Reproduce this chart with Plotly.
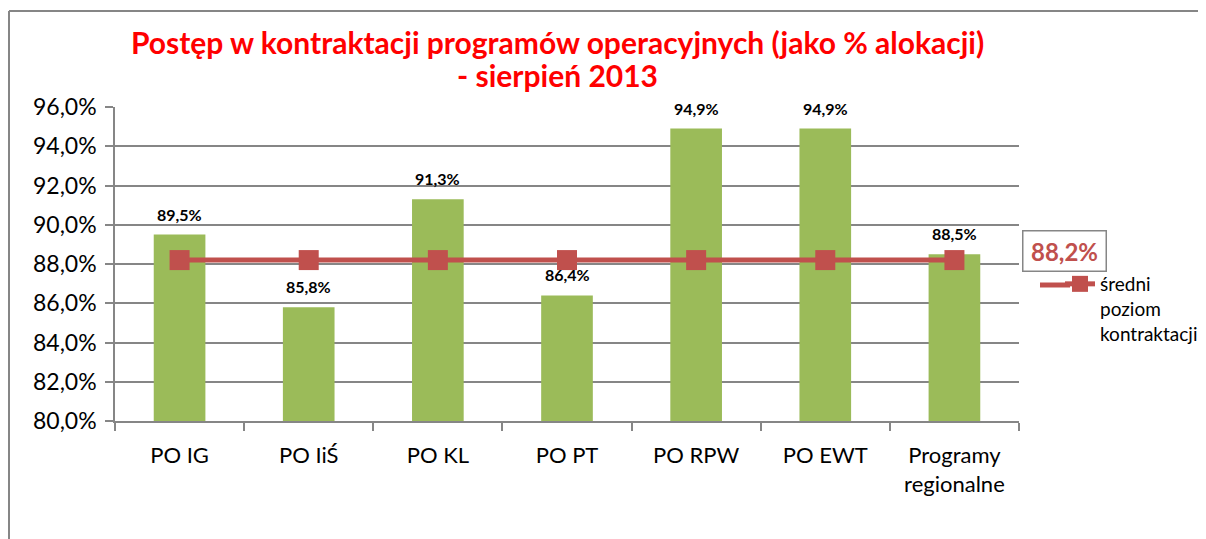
import plotly.graph_objects as go

categories = ["PO IG", "PO IiŚ", "PO KL", "PO PT", "PO RPW", "PO EWT", "Programy<br>regionalne"]
values = [89.5, 85.8, 91.3, 86.4, 94.9, 94.9, 88.5]
average = 88.2
avg_values = [average] * len(categories)
avg_name = "średni<br>poziom<br>kontraktacji"
title_lines = ["Postęp w kontraktacji programów operacyjnych (jako % alokacji)", "- sierpień 2013"]

FONT = "Lato"
GREEN = "#9BBB59"
RED = "#C0504D"
GRID = "#868686"

# page body has an 8px margin: figure is drawn 8px right/down of the screenshot origin
W, H = 1198, 531
L, T = 107, 99
PW, PH = 904, 314


def px(x):
    return (x - 8 - L) / PW


def py(y):
    return (T + PH - (y - 8)) / PH


fig = go.Figure()
fig.add_trace(go.Bar(
    x=categories, y=values, marker=dict(color=GREEN, line=dict(width=0)),
    width=0.4, showlegend=False, hoverinfo="skip",
))
fig.add_trace(go.Scatter(
    x=categories, y=avg_values, mode="lines+markers", name=avg_name,
    line=dict(color=RED, width=5),
    marker=dict(symbol="square", size=20, color=RED),
))

for c, v in zip(categories, values):
    fig.add_annotation(x=c, y=v, text=f"{v:.1f}%".replace(".", ","), showarrow=False,
                       yanchor="bottom", yshift=9,
                       font=dict(family=FONT, size=16, color="black", weight="bold"))

fig.update_layout(
    width=W, height=H,
    margin=dict(l=L, r=W - L - PW, t=T, b=H - T - PH, autoexpand=False),
    paper_bgcolor="white", plot_bgcolor="white",
    separators=", ",
    font=dict(family=FONT, size=22, color="black"),
    bargap=0.6,
    legend=dict(x=px(1060), y=py(265), xanchor="left", yanchor="top", valign="top",
                font=dict(family=FONT, size=19, color="black"),
                bgcolor="rgba(0,0,0,0)", itemwidth=30),
    showlegend=True,
)
fig.update_yaxes(range=[80, 96], dtick=2, tickformat=".1f", ticksuffix="%",
                 showgrid=True, gridcolor=GRID, gridwidth=1.5,
                 showline=True, linecolor=GRID, linewidth=1.5,
                 ticks="outside", ticklen=8, tickcolor=GRID, tickwidth=1.5,
                 ticklabelstandoff=4,
                 tickfont=dict(family=FONT, size=23, color="black"), zeroline=False)
fig.update_xaxes(showline=True, linecolor=GRID, linewidth=1.5,
                 ticks="outside", tickson="boundaries", ticklen=8, tickcolor=GRID, tickwidth=1.5,
                 ticklabelstandoff=14,
                 tickfont=dict(family=FONT, size=22, color="black"), showgrid=False)

# title (two centred lines)
for line, yc in zip(title_lines, [42, 75]):
    fig.add_annotation(xref="paper", yref="paper", x=px(557), y=py(yc), text=line,
                       showarrow=False, xanchor="center", yanchor="middle",
                       font=dict(family=FONT, size=30, color="#FF0000", weight="bold"))

# outer chart border (left and top edges visible)
fig.add_shape(type="line", xref="paper", yref="paper",
              x0=px(9), x1=px(9), y0=py(11), y1=py(560),
              line=dict(color=GRID, width=2))
fig.add_shape(type="line", xref="paper", yref="paper",
              x0=px(9), x1=px(1215), y0=py(11), y1=py(11),
              line=dict(color=GRID, width=2))

# longer legend line (Excel-style legend key)
fig.add_shape(type="line", xref="paper", yref="paper",
              x0=px(1040), x1=px(1070), y0=py(285), y1=py(285),
              line=dict(color=RED, width=5))

# average value box
fig.add_annotation(xref="paper", yref="paper", x=px(1064), y=py(251.5),
                   text=f"{average:.1f}%".replace(".", ","), showarrow=False,
                   xanchor="center", yanchor="middle", width=72, height=29,
                   font=dict(family=FONT, size=24, color=RED, weight="bold"),
                   bordercolor=GRID, borderwidth=1.5, borderpad=5, bgcolor="white")

fig.write_html("out.html")
